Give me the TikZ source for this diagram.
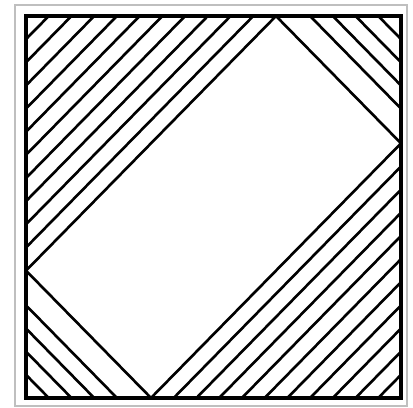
\documentclass[tikz,border=0pt]{standalone}
\usepackage{tikz}
\colorlet{framegray}{black!25}
\tikzset{hatch/.style={line width=0.75pt}, boxedge/.style={line width=1.2pt}}

\begin{document}
\begin{tikzpicture}[x=1.25cm, y=1.273cm]
    \useasboundingbox (-0.208,-0.079) rectangle (3.096,3.126);
    % Outer frame
    \draw[framegray, line width=0.4pt] (-0.088,-0.063) rectangle (3.048,3.087);

    % Square corners & rectangle vertices
    \coordinate (sw) at (0,0);
    \coordinate (ne) at (3,3);
    \coordinate (rb) at (1,0);
    \coordinate (rr) at (3,2);
    \coordinate (rt) at (2,3);
    \coordinate (rl) at (0,1);

    % Hatching, small corners
    \foreach \k in {1,...,4} {
        \pgfmathsetmacro{\c}{2*\k/11}
        \draw[hatch] (0,\c) -- (\c,0);
        \draw[hatch] ({3-\c},3) -- (3,{3-\c});
    }
    % Hatching, large corners
    \foreach \k in {1,...,10} {
        \pgfmathsetmacro{\c}{2*\k/11}
        \draw[hatch] (0,{3-\c}) -- (\c,3);
        \draw[hatch] ({3-\c},0) -- (3,\c);
    }

    % Inner rectangle
    \draw[hatch] (rb) -- (rr) -- (rt) -- (rl) -- cycle;

    % Square
    \draw[boxedge] (sw) rectangle (ne);
\end{tikzpicture}
\end{document}
